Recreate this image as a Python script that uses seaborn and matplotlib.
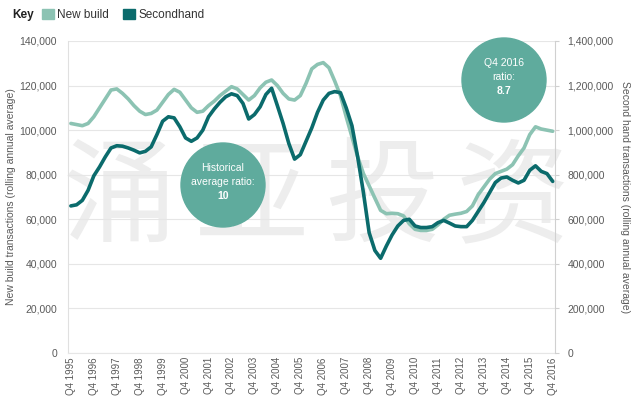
import matplotlib
matplotlib.use("Agg")
import matplotlib.pyplot as plt
from matplotlib.patches import Ellipse, Patch
from matplotlib.ticker import FuncFormatter
import pandas as pd
import seaborn as sns

# Quarterly data, Q4 1995 .. Q4 2016
years = list(range(1995, 2017))
tick_labels = [f"Q4 {y}" for y in years]

# New build transactions (rolling annual average), left axis
new_build = [
    103000, 102500, 102000, 103000, 106000, 110000, 114000, 118000, 118500, 116500,
    114000, 111000, 108500, 107000, 107500, 109000, 112500, 116000, 118300, 117000,
    113500, 110000, 108000, 108500, 111000, 113000, 115500, 117500, 119500, 118500,
    116000, 113500, 115500, 119000, 121500, 122500, 120000, 116500, 114000, 113500,
    115500, 121000, 127500, 129500, 130300, 128000, 122000, 115500, 106000, 97000,
    88000, 80500, 75000, 69500, 64000, 62500, 62700, 62500, 61500, 58000,
    55500, 55000, 55000, 55500, 57500, 60000, 61800, 62300, 62700, 63500,
    66000, 71000, 74500, 78000, 80500, 81500, 82500, 84500, 88500, 92000,
    98000, 101500, 100500, 100000, 99500,
]

# Second hand transactions (rolling annual average), right axis
secondhand = [
    660000, 665000, 685000, 730000, 795000, 835000, 880000, 920000, 930000, 928000,
    920000, 910000, 898000, 905000, 925000, 980000, 1040000, 1060000, 1055000, 1015000,
    965000, 950000, 965000, 1000000, 1060000, 1095000, 1125000, 1150000, 1163000, 1155000,
    1120000, 1050000, 1070000, 1105000, 1160000, 1188000, 1110000, 1030000, 940000, 870000,
    890000, 950000, 1010000, 1080000, 1135000, 1165000, 1173000, 1168000, 1100000, 1020000,
    880000, 720000, 540000, 460000, 425000, 480000, 530000, 570000, 595000, 600000,
    570000, 563000, 563000, 567000, 585000, 595000, 583000, 570000, 567000, 567000,
    595000, 635000, 675000, 720000, 765000, 785000, 790000, 775000, 763000, 775000,
    820000, 840000, 815000, 805000, 770000,
]

LIGHT = "#8cc3b3"
DARK = "#0b6b6c"
BUBBLE = "#5fab9d"
GREY = "#5a5a5a"

df = pd.DataFrame({
    "q": range(len(new_build)),
    "new_build": new_build,
    "secondhand": secondhand,
})

sns.set_style("white")
plt.rcParams["font.family"] = ["Liberation Sans", "Noto Sans CJK SC", "DejaVu Sans"]

fig = plt.figure(figsize=(6.36, 3.98), dpi=100)
ax = fig.add_axes([68 / 636, 1 - 353 / 398, 487 / 636, 312 / 398])
ax2 = ax.twinx()

# Watermark, kept under the lines
for txt, xp in zip("涌亚投资", [120, 252, 382, 512]):
    ax.text(xp / 636, 1 - 200 / 398, txt, transform=fig.transFigure, fontsize=82,
            color="#ededed", ha="center", va="center", family=["Noto Sans CJK SC"],
            fontweight="light", zorder=0.5, clip_on=False)

sns.lineplot(data=df, x="q", y="new_build", color=LIGHT, lw=2.6, ax=ax)
sns.lineplot(data=df, x="q", y="secondhand", color=DARK, lw=2.6, ax=ax2)

ax.set_xlim(-0.5, 84.4)
ax.set_ylim(0, 140000)
ax2.set_ylim(0, 1400000)
ax.set_yticks(range(0, 140001, 20000))
ax2.set_yticks(range(0, 1400001, 200000))
ax.yaxis.set_major_formatter(FuncFormatter(lambda v, p: f"{int(v):,}"))
ax2.yaxis.set_major_formatter(FuncFormatter(lambda v, p: f"{int(v):,}"))
ax.set_xticks(range(0, len(new_build), 4))
ax.set_xticklabels(tick_labels, rotation=90, fontsize=7, color=GREY)

ax.grid(axis="y", color="#e6e6e6", lw=0.8)
ax.set_axisbelow(True)
ax.patch.set_alpha(0)
ax2.patch.set_alpha(0)

for a in (ax, ax2):
    for s in a.spines.values():
        s.set_visible(False)
    a.set_xlabel("")
ax.spines["left"].set_visible(True)
ax.spines["left"].set_color("#e0e0e0")
ax.spines["bottom"].set_visible(True)
ax.spines["bottom"].set_color("#e6e6e6")
ax2.spines["right"].set_visible(True)
ax2.spines["right"].set_color("#d0d0d0")

ax.tick_params(axis="y", labelsize=7.5, labelcolor=GREY, length=0, pad=8)
ax.tick_params(axis="x", length=0, pad=3)
ax2.tick_params(axis="y", labelsize=7.5, labelcolor=GREY, length=3,
                color="#d0d0d0", direction="out", pad=6)

ax.set_ylabel("New build transactions (rolling annual average)", fontsize=7.5,
              color=GREY, labelpad=2)
ax2.set_ylabel("Second hand transactions (rolling annual average)", fontsize=7.5,
               color=GREY, rotation=270, labelpad=12)

# Ratio bubbles (drawn in axes coords, corrected for aspect)
aw, ah = 487, 312
for cx, cy, r, lines in [
    (223, 185, 42, ["Historical", "average ratio:", "10"]),
    (504, 80, 42, ["Q4 2016", "ratio:", "8.7"]),
]:
    xa = (cx - 68) / aw
    ya = (353 - cy) / ah
    ax2.add_patch(Ellipse((xa, ya), 2 * r / aw, 2 * r / ah, transform=ax2.transAxes,
                          color=BUBBLE, zorder=5, clip_on=False))
    for k, line in enumerate(lines):
        ax2.text(xa, ya + (1 - k) * 14 / ah + 3 / ah, line, transform=ax2.transAxes,
                 ha="center", va="center", color="white", fontsize=7.5,
                 fontweight="bold" if k == 2 else "normal", zorder=6)

# Key
fig.text(12 / 636, 1 - 15 / 398, "Key", fontsize=8.5, fontweight="bold",
         color="#222222", va="center")
handles = [Patch(color=LIGHT, label="New build"), Patch(color=DARK, label="Secondhand")]
fig.legend(handles=handles, loc="center left", bbox_to_anchor=(36 / 636, 1 - 15 / 398),
           ncol=2, frameon=False, fontsize=8.5, handlelength=1.0, handleheight=1.0,
           handletextpad=0.3, columnspacing=1.2, borderpad=0, labelcolor="#333333")

fig.savefig("out.png", dpi=100)
